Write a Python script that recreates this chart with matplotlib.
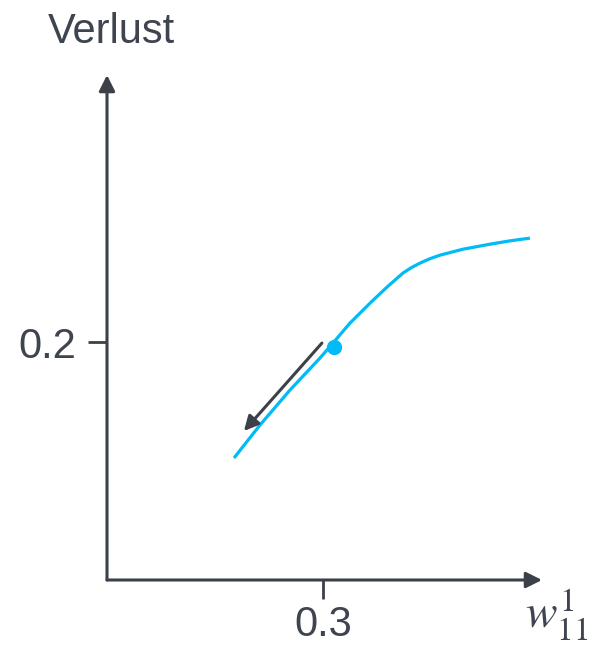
import matplotlib
matplotlib.use("Agg")
import matplotlib.pyplot as plt

# Data
curve_x = [0.2588, 0.2708, 0.2847, 0.2986, 0.3046, 0.3125, 0.3218, 0.3296, 0.3370, 0.3408, 0.3449, 0.3495, 0.3542, 0.3648, 0.3773, 0.3865, 0.3958]
curve_y = [0.1025, 0.1302, 0.1596, 0.1865, 0.1991, 0.2159, 0.2327, 0.2461, 0.2579, 0.2624, 0.2663, 0.2700, 0.2730, 0.2780, 0.2822, 0.2850, 0.2873]
point_x = [0.3050]
point_y = [0.1960]
step_start = (0.2995, 0.1991)
step_end = (0.2634, 0.1252)
xticks = [0.3]
xtick_labels = ["0.3"]
yticks = [0.2]
ytick_labels = ["0.2"]

plt.rcParams['font.family'] = ['Liberation Sans', 'DejaVu Sans']
plt.rcParams['mathtext.fontset'] = 'stix'

AX = '#3c4049'
TXT = '#3f4550'
CYAN = '#00bbf5'

fig = plt.figure(figsize=(5.92, 6.45), dpi=100)
ax = fig.add_axes([107/592, 65/645, 435/592, 505/645])
ax.set_xlim(0.2, 0.4014)
ax.set_ylim(0.0, 0.4244)
for s in ax.spines.values():
    s.set_visible(False)

# axes with arrows
ax.annotate('', xy=(1, 0), xytext=(0, 0), xycoords='axes fraction',
            arrowprops=dict(arrowstyle='-|>', color=AX, lw=2.2, mutation_scale=24,
                            shrinkA=0, shrinkB=0))
ax.annotate('', xy=(0, 1), xytext=(0, 0), xycoords='axes fraction',
            arrowprops=dict(arrowstyle='-|>', color=AX, lw=2.2, mutation_scale=24,
                            shrinkA=0, shrinkB=0))

ax.set_xticks(xticks)
ax.set_xticklabels(xtick_labels)
ax.set_yticks(yticks)
ax.set_yticklabels(ytick_labels)
ax.tick_params(axis='both', length=14, width=2, color=AX, labelcolor=TXT, labelsize=30)
ax.tick_params(axis='x', pad=4)
ax.tick_params(axis='y', pad=8)

ax.plot(curve_x, curve_y, color=CYAN, lw=2.3, solid_capstyle='butt', solid_joinstyle='round', zorder=3)
ax.plot(point_x, point_y, 'o', color=CYAN, markersize=10, zorder=4)
ax.annotate('', xy=step_end, xytext=step_start,
            arrowprops=dict(arrowstyle='-|>', color=AX, lw=2.2, mutation_scale=22,
                            shrinkA=0, shrinkB=0), zorder=5)

fig.text(111/592, 1 - 43/645, 'Verlust', ha='center', va='baseline', fontsize=30, color=TXT)
fig.text(557/592, 1 - 628/645, r'$w_{11}^{1}$', ha='center', va='baseline', fontsize=34, color=TXT)

fig.savefig('out.png', dpi=100)
